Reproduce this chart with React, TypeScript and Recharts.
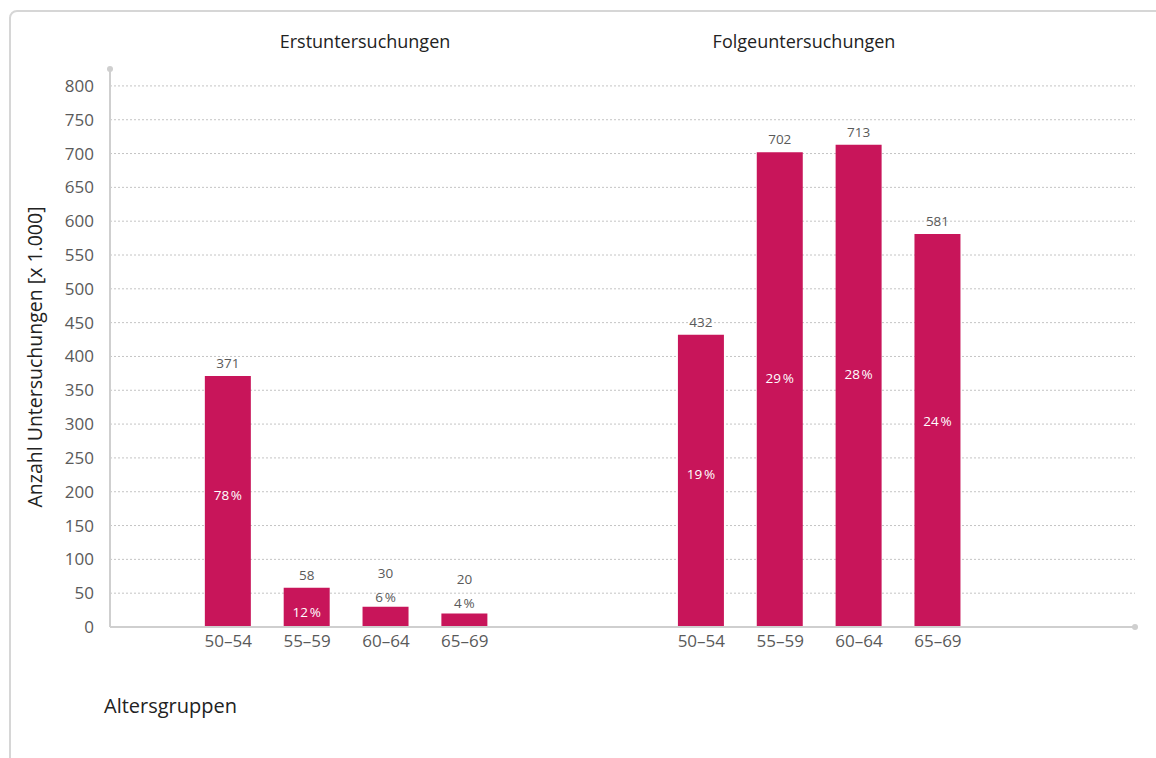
import { Bar, BarChart, CartesianGrid, LabelList, XAxis, YAxis } from "recharts";

const ageGroups = ["50–54", "55–59", "60–64", "65–69"];
const erstValues = [371, 58, 30, 20];
const erstShares = [78, 12, 6, 4];
const folgeValues = [432, 702, 713, 581];
const folgeShares = [19, 29, 28, 24];
const yTicks = [0, 50, 100, 150, 200, 250, 300, 350, 400, 450, 500, 550, 600, 650, 700, 750, 800];

type Row = { key: string; age: string; value: number | null; share: number | null };

const gap = (k: string): Row => ({ key: k, age: "", value: null, share: null });

const data: Row[] = [
  gap("g0"),
  ...ageGroups.map((a, i) => ({ key: "e" + i, age: a, value: erstValues[i], share: erstShares[i] })),
  gap("g1"),
  gap("g2"),
  ...ageGroups.map((a, i) => ({ key: "f" + i, age: a, value: folgeValues[i], share: folgeShares[i] })),
  gap("g3"),
  gap("g4"),
];

const FONT = "'Open Sans', 'Noto Sans', sans-serif";
const BAR = "#c8155a";
const GRAY = "#5a5a5a";

function BarLabel(props: any) {
  const { x, y, width, height, value } = props;
  const row = data.find((d) => d.key === value);
  if (!row || row.value == null) return null;
  const cx = x + width / 2;
  const pct = `${row.share}\u202F%`;
  if (height < 35) {
    return (
      <g fontFamily={FONT} fontSize={13.5} textAnchor="middle">
        <text x={cx} y={y - 29} fill={GRAY}>{row.value}</text>
        <text x={cx} y={y - 5} fill={GRAY}>{pct}</text>
      </g>
    );
  }
  // percentage sits a little above the middle of tall bars
  const py = height < 60 ? y + height / 2 + 10 : y + height * 0.475 + 5;
  return (
    <g fontFamily={FONT} fontSize={13.5} textAnchor="middle">
      <text x={cx} y={y - 8} fill={GRAY}>{row.value}</text>
      <text x={cx} y={py} fill="#ffffff">{pct}</text>
    </g>
  );
}

export default function App() {
  return (
    <div style={{ position: "absolute", left: 0, top: 0, width: 1156, height: 758, overflow: "hidden", background: "#fff", fontFamily: FONT }}>
      <div
        style={{
          position: "absolute",
          left: 9,
          top: 10,
          width: 1200,
          height: 800,
          border: "2px solid #d6d6d6",
          borderRadius: 8,
          boxSizing: "border-box",
        }}
      />
      <div style={{ position: "absolute", left: 0, top: 0 }}>
        <BarChart
          width={1156}
          height={758}
          data={data}
          margin={{ top: 69, right: 21, left: 0, bottom: 101 }}
          barSize={46}
        >
          <CartesianGrid
            vertical={false}
            horizontalValues={yTicks.slice(1)}
            stroke="#c4c4c4"
            strokeDasharray="2 2"
          />
          <XAxis
            dataKey="key"
            tickFormatter={(k: string) => data.find((d) => d.key === k)?.age ?? ""}
            interval={0}
            height={30}
            tickLine={false}
            tickMargin={2}
            axisLine={{ stroke: "#cfcfcf", strokeWidth: 2 }}
            tick={{ fill: GRAY, fontSize: 17, fontFamily: FONT }}
          />
          <YAxis
            width={110}
            domain={[0, 825]}
            ticks={yTicks}
            interval={0}
            tickLine={false}
            tickMargin={10}
            axisLine={{ stroke: "#cfcfcf", strokeWidth: 2 }}
            tick={{ fill: GRAY, fontSize: 17, fontFamily: FONT }}
          />
          <Bar dataKey="value" fill={BAR} isAnimationActive={false}>
            <LabelList dataKey="key" content={BarLabel} />
          </Bar>
        </BarChart>
      </div>
      <div style={{ position: "absolute", left: 107, top: 66, width: 6, height: 6, borderRadius: 3, background: "#cfcfcf" }} />
      <div style={{ position: "absolute", left: 1132, top: 624, width: 6, height: 6, borderRadius: 3, background: "#cfcfcf" }} />
      <div style={{ position: "absolute", left: 265, top: 29, width: 200, textAlign: "center", fontSize: 18, color: "#222" }}>
        Erstuntersuchungen
      </div>
      <div style={{ position: "absolute", left: 704, top: 29, width: 200, textAlign: "center", fontSize: 18, color: "#222" }}>
        Folgeuntersuchungen
      </div>
      <div
        style={{
          position: "absolute",
          left: 35 - 170,
          top: 357 - 12,
          width: 340,
          textAlign: "center",
          fontSize: 19.5,
          color: "#222",
          transform: "rotate(-90deg)",
          lineHeight: "24px",
        }}
      >
        Anzahl Untersuchungen [x 1.000]
      </div>
      <div style={{ position: "absolute", left: 104, top: 692, fontSize: 20, color: "#222" }}>Altersgruppen</div>
    </div>
  );
}
